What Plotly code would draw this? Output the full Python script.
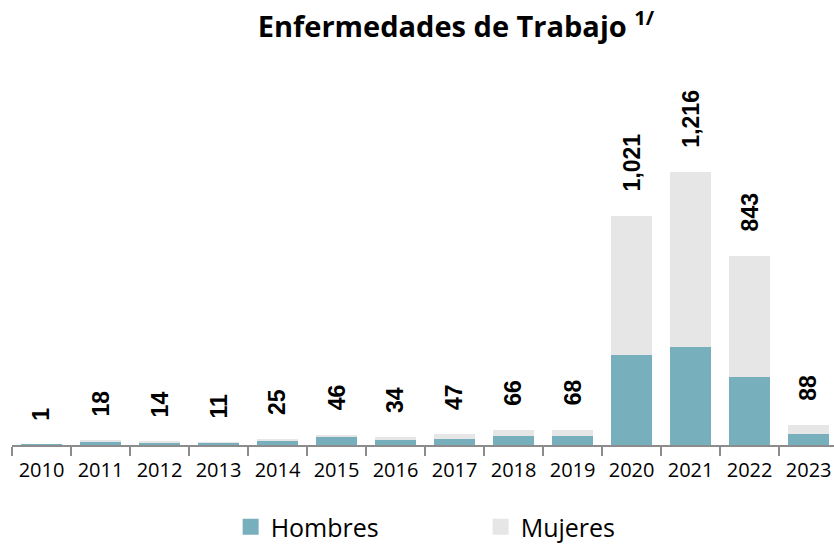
import plotly.graph_objects as go

years = ["2010", "2011", "2012", "2013", "2014", "2015", "2016",
         "2017", "2018", "2019", "2020", "2021", "2022", "2023"]
hombres = [1, 16, 12, 9, 18, 39, 22, 25, 39, 42, 399, 437, 304, 49]
mujeres = [0, 2, 2, 2, 7, 7, 12, 22, 27, 26, 622, 779, 539, 39]
totales = [h + m for h, m in zip(hombres, mujeres)]

COLOR_H = "#78AFBD"
COLOR_M = "#E6E6E6"
FONT = "Open Sans"
LABEL_FONT = "Liberation Sans"

fig = go.Figure()
fig.add_trace(go.Bar(x=years, y=hombres, name="Hombres", showlegend=False,
                     marker=dict(color=COLOR_H, line=dict(width=0)), width=0.695))
fig.add_trace(go.Bar(x=years, y=mujeres, name="Mujeres", showlegend=False,
                     marker=dict(color=COLOR_M, line=dict(width=0)), width=0.695))

# legend entries with larger square swatches
for name, color in [("Hombres", COLOR_H), ("Mujeres", COLOR_M)]:
    fig.add_trace(go.Scatter(x=[None], y=[None], mode="markers", name=name,
                             marker=dict(symbol="square", size=16, color=color)))

for i, tot in enumerate(totales):
    fig.add_annotation(x=i, y=tot, xref="x", yref="y",
                       text=f"<b>{tot:,}</b>", textangle=-90,
                       showarrow=False, yanchor="bottom", yshift=22,
                       font=dict(family=LABEL_FONT, size=23, color="#000000"))

fig.update_layout(
    barmode="stack",
    width=834, height=545,
    margin=dict(l=12, r=0, t=60, b=100, autoexpand=False),
    paper_bgcolor="white", plot_bgcolor="white",
    font=dict(family=FONT, color="#000000"),
    title=dict(text="<b>Enfermedades de Trabajo <sup>1/</sup></b>",
               x=456 / 834, xref="container", xanchor="center",
               y=0.95, yref="container", yanchor="middle",
               font=dict(family=FONT, size=29, color="#000000")),
    xaxis=dict(type="category", range=[-0.5, 13.43], showline=True,
               linecolor="#8C8C8C", linewidth=1.5, ticks="outside",
               tickson="boundaries", ticklen=9, tickcolor="#8C8C8C",
               tickwidth=1.5, showgrid=False, ticklabelstandoff=6,
               tickfont=dict(family=FONT, size=20, color="#000000")),
    yaxis=dict(range=[0, 1715], visible=False, showgrid=False),
    legend=dict(orientation="h", x=0.266, xanchor="left",
                yref="container", y=0.033, yanchor="middle",
                font=dict(family=FONT, size=25),
                entrywidth=205, entrywidthmode="pixels",
                itemwidth=30, traceorder="normal"),
    bargap=0.3,
)

fig.write_html("out.html")
